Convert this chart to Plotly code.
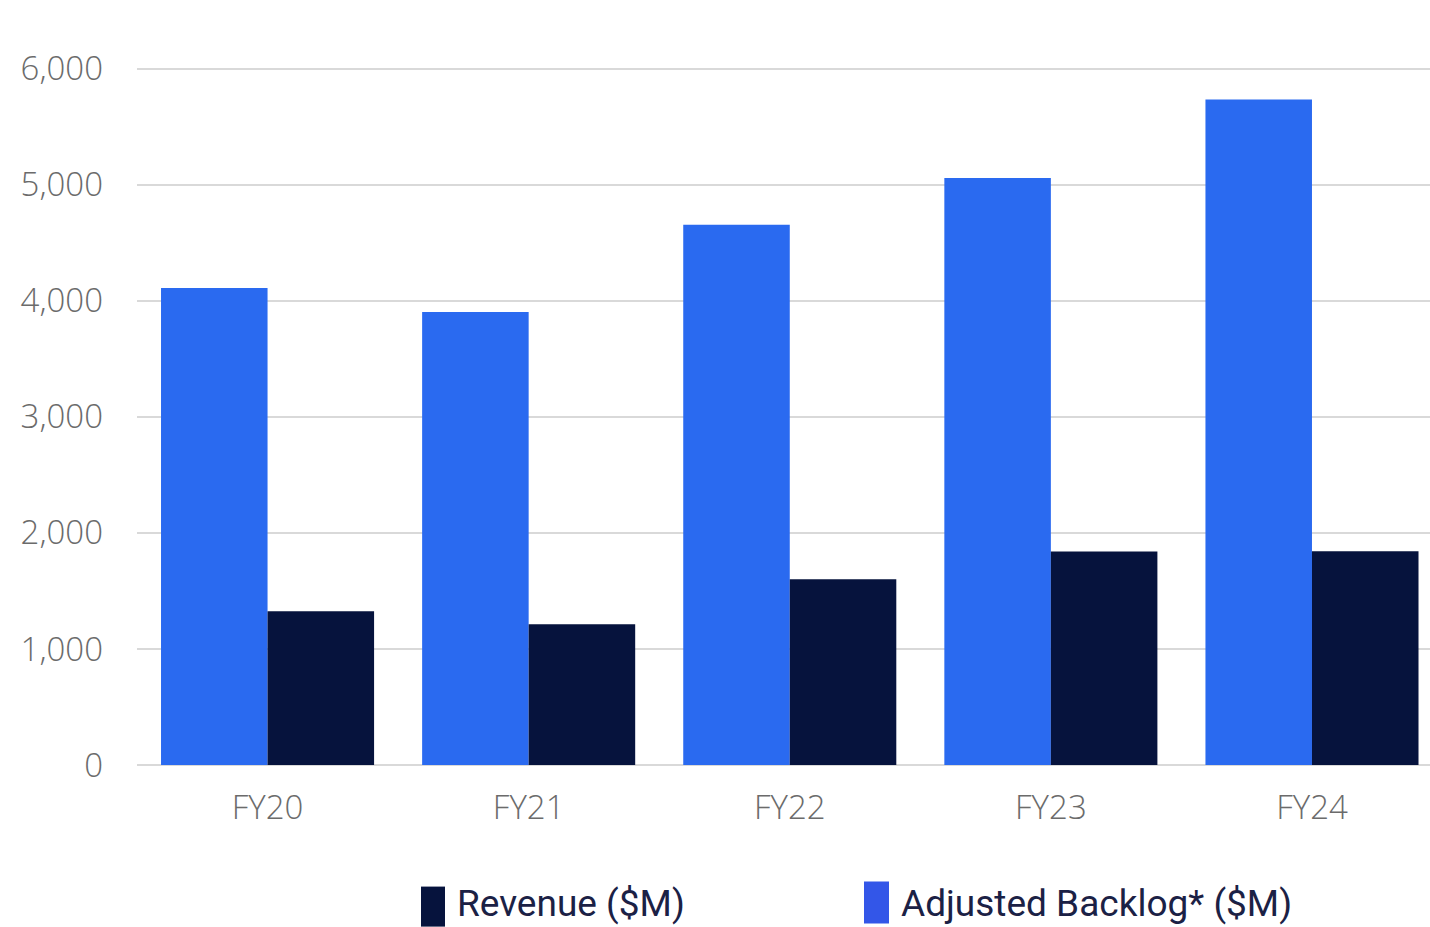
import plotly.graph_objects as go

# Fiscal years and values in $M
years = ["FY20", "FY21", "FY22", "FY23", "FY24"]
backlog = [4111, 3904, 4655, 5058, 5736]
revenue = [1324, 1212, 1601, 1839, 1842]

y_ticks = [0, 1000, 2000, 3000, 4000, 5000, 6000]
y_tick_text = ["0", "1,000", "2,000", "3,000", "4,000", "5,000", "6,000"]

backlog_name = "Adjusted Backlog* ($M)"
revenue_name = "Revenue ($M)"

BACKLOG_COLOR = "#2a6af0"
REVENUE_COLOR = "#06133d"
TICK_FONT = dict(family="Open Sans, Lato, sans-serif", size=33, color="#6b6b6b", weight=300)

fig = go.Figure()
fig.add_trace(go.Bar(x=years, y=backlog, name=backlog_name,
                     marker=dict(color=BACKLOG_COLOR, line=dict(width=0))))
fig.add_trace(go.Bar(x=years, y=revenue, name=revenue_name,
                     marker=dict(color=REVENUE_COLOR, line=dict(width=0))))

fig.update_layout(
    width=1430, height=927,
    margin=dict(l=137, r=0, t=63, b=162),
    paper_bgcolor="white", plot_bgcolor="white",
    barmode="group", bargap=0.184, bargroupgap=0,
    showlegend=False,
    xaxis=dict(range=[-0.5, 4.452], showgrid=False, showline=False,
               ticks="", tickfont=TICK_FONT, ticklabelstandoff=20),
    yaxis=dict(range=[0, 6050], tickvals=y_ticks, ticktext=y_tick_text,
               showgrid=True, gridcolor="#d9d9d9", gridwidth=2,
               zeroline=True, zerolinecolor="#d9d9d9", zerolinewidth=2,
               showline=False, ticks="", tickfont=TICK_FONT,
               ticklabelstandoff=33),
)

# Custom legend below the plot: tall colour swatches with labels
LEGEND_FONT = dict(family="Liberation Sans Narrow, Roboto, sans-serif", size=37, color="#1b2145")
legend_items = [
    (revenue_name, REVENUE_COLOR, 421, 445, 886, 926, 455),
    (backlog_name, "#3356e8", 864, 889, 881, 923, 899),
]
for name, color, x0, x1, y0, y1, tx in legend_items:
    fig.add_shape(type="rect", xref="paper", yref="paper",
                  x0=(x0 - 137) / 1293, x1=(x1 - 137) / 1293,
                  y0=(764.5 - y1) / 701.5, y1=(764.5 - y0) / 701.5,
                  line=dict(width=0), fillcolor=color)
    fig.add_annotation(text=name, xref="paper", yref="paper",
                       x=(tx - 137) / 1293, y=(764.5 - 903) / 701.5,
                       xanchor="left", yanchor="middle", showarrow=False,
                       font=LEGEND_FONT)

fig.write_html("out.html")
